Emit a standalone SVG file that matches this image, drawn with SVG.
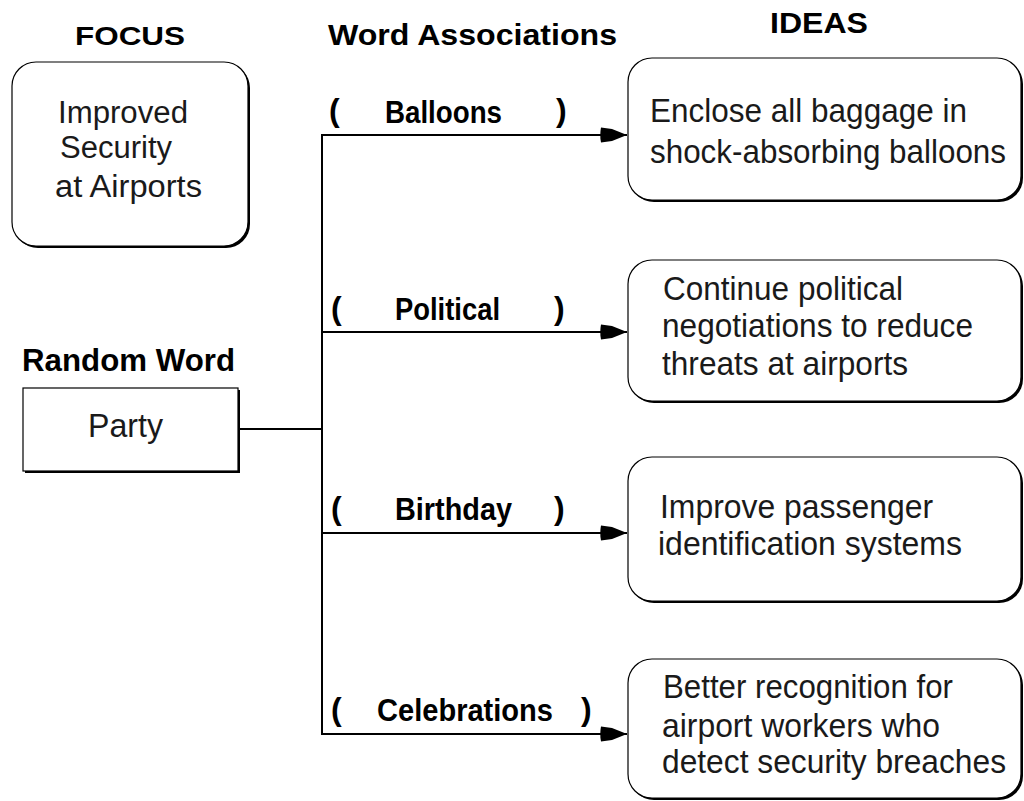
<svg xmlns="http://www.w3.org/2000/svg" width="1024" height="801" viewBox="0 0 1024 801">
<style>
.hd{font-family:"Liberation Sans",Arial,sans-serif;font-weight:bold;fill:#000}
.lb{font-family:"Liberation Sans",Arial,sans-serif;font-weight:bold;font-size:32px;fill:#000}
.bt{font-family:"Liberation Sans",Arial,sans-serif;font-size:33px;fill:#1a1a1a}
.ft{font-family:"Liberation Sans",Arial,sans-serif;font-size:31px;fill:#1a1a1a}
.box{fill:#fff;stroke:#000;stroke-width:1.2}
.shd{fill:#000}
.ln{fill:none;stroke:#000;stroke-width:2}
</style>
<defs>
<marker id="arr" markerUnits="userSpaceOnUse" markerWidth="30" markerHeight="20" refX="27" refY="10" orient="auto" viewBox="0 0 30 20">
<path d="M1,2.5 L12,4 L27,10 L12,16 L1,17.5 Q-0.5,10 1,2.5 Z" fill="#000"/>
</marker>
</defs>
<rect width="1024" height="801" fill="#fff"/>

<g id="headings">
<text class="hd" x="75" y="45" font-size="25" textLength="110" lengthAdjust="spacingAndGlyphs">FOCUS</text>
<text class="hd" x="328" y="45" font-size="30" textLength="289" lengthAdjust="spacingAndGlyphs">Word Associations</text>
<text class="hd" x="770" y="33" font-size="29" textLength="98" lengthAdjust="spacingAndGlyphs">IDEAS</text>
<text class="hd" x="22" y="371" font-size="31" textLength="213" lengthAdjust="spacingAndGlyphs">Random Word</text>
</g>

<g id="focus">
<rect class="shd" x="14" y="64" width="236" height="184" rx="24"/>
<rect class="box" x="12" y="62" width="236" height="184" rx="24"/>
<text class="ft" x="58" y="123" textLength="130" lengthAdjust="spacingAndGlyphs">Improved</text>
<text class="ft" x="60" y="158" textLength="112" lengthAdjust="spacingAndGlyphs">Security</text>
<text class="ft" x="55" y="197" textLength="147" lengthAdjust="spacingAndGlyphs">at Airports</text>
</g>

<g id="party">
<rect class="shd" x="25" y="390" width="215" height="83"/>
<rect class="box" x="23" y="388" width="215" height="83"/>
<text class="bt" x="88" y="437" font-size="28" textLength="75" lengthAdjust="spacingAndGlyphs" fill="#333">Party</text>
</g>

<g id="connectors">
<line class="ln" x1="238" y1="429" x2="322" y2="429" stroke-width="1.6"/>
<line class="ln" x1="322" y1="134" x2="322" y2="735"/>
<polyline class="ln" points="321,135 627,135" marker-end="url(#arr)"/>
<polyline class="ln" points="321,332 627,332" marker-end="url(#arr)"/>
<polyline class="ln" points="321,533 627,533" marker-end="url(#arr)"/>
<polyline class="ln" points="321,734 627,734" marker-end="url(#arr)"/>
</g>

<g id="label-balloons">
<text class="lb" x="329" y="121">(</text>
<text class="lb" x="385" y="123" textLength="117" lengthAdjust="spacingAndGlyphs">Balloons</text>
<text class="lb" x="556" y="121">)</text>
</g>
<g id="label-political">
<text class="lb" x="331" y="319">(</text>
<text class="lb" x="395" y="320" textLength="105" lengthAdjust="spacingAndGlyphs">Political</text>
<text class="lb" x="554" y="319">)</text>
</g>
<g id="label-birthday">
<text class="lb" x="331" y="519">(</text>
<text class="lb" x="395" y="520" textLength="117" lengthAdjust="spacingAndGlyphs">Birthday</text>
<text class="lb" x="554" y="519">)</text>
</g>
<g id="label-celebrations">
<text class="lb" x="331" y="720">(</text>
<text class="lb" x="377" y="721" textLength="176" lengthAdjust="spacingAndGlyphs">Celebrations</text>
<text class="lb" x="581" y="720">)</text>
</g>

<g id="idea1">
<rect class="shd" x="630" y="60" width="393" height="142" rx="24"/>
<rect class="box" x="628" y="58" width="393" height="142" rx="24"/>
<text class="bt" x="650" y="122" textLength="317" lengthAdjust="spacingAndGlyphs">Enclose all baggage in</text>
<text class="bt" x="650" y="163" textLength="356" lengthAdjust="spacingAndGlyphs">shock-absorbing balloons</text>
</g>

<g id="idea2">
<rect class="shd" x="630" y="262" width="393" height="141" rx="24"/>
<rect class="box" x="628" y="260" width="393" height="141" rx="24"/>
<text class="bt" x="663" y="300" textLength="240" lengthAdjust="spacingAndGlyphs">Continue political</text>
<text class="bt" x="662" y="337" textLength="311" lengthAdjust="spacingAndGlyphs">negotiations to reduce</text>
<text class="bt" x="662" y="375" textLength="246" lengthAdjust="spacingAndGlyphs">threats at airports</text>
</g>

<g id="idea3">
<rect class="shd" x="630" y="459" width="393" height="144" rx="24"/>
<rect class="box" x="628" y="457" width="393" height="144" rx="24"/>
<text class="bt" x="660" y="518" textLength="273" lengthAdjust="spacingAndGlyphs">Improve passenger</text>
<text class="bt" x="658" y="555" textLength="304" lengthAdjust="spacingAndGlyphs">identification systems</text>
</g>

<g id="idea4">
<rect class="shd" x="630" y="661" width="393" height="139" rx="24"/>
<rect class="box" x="628" y="659" width="393" height="139" rx="24"/>
<text class="bt" x="663" y="698" textLength="290" lengthAdjust="spacingAndGlyphs">Better recognition for</text>
<text class="bt" x="662" y="737" textLength="278" lengthAdjust="spacingAndGlyphs">airport workers who</text>
<text class="bt" x="662" y="773" textLength="344" lengthAdjust="spacingAndGlyphs">detect security breaches</text>
</g>
</svg>
